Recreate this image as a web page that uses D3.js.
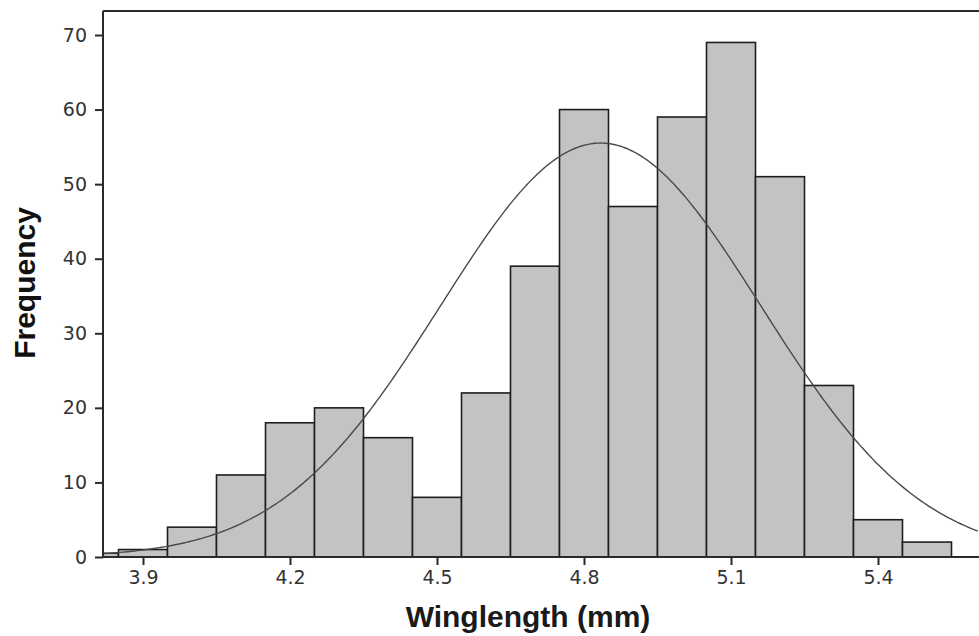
<!DOCTYPE html>
<html>
<head>
<meta charset="utf-8">
<script src="https://cdn.jsdelivr.net/npm/d3@7"></script>
<style>
  html, body { margin: 0; padding: 0; background: #fff; }
  svg { display: block; }
</style>
</head>
<body>
<svg id="chart" width="979" height="636"></svg>
<script>
// Histogram of wing lengths (mm), bins of 0.1 mm, with a fitted normal curve
const binCenters = [3.8, 3.9, 4.0, 4.1, 4.2, 4.3, 4.4, 4.5, 4.6, 4.7, 4.8, 4.9, 5.0, 5.1, 5.2, 5.3, 5.4, 5.5];
const counts     = [0.5, 1,   4,   11,  18,  20,  16,  8,   22,  39,  60,  47,  59,  69,  51,  23,  5,   2];
const binWidth = 0.1;

const xTicks = [3.9, 4.2, 4.5, 4.8, 5.1, 5.4];
const yTicks = [0, 10, 20, 30, 40, 50, 60, 70];

// Normal fit parameters for the overlay curve
const fitMean = 4.834;
const fitSd = 0.327;
const fitN = 455;

const svg = d3.select("#chart");
const plot = { left: 103, top: 11, right: 979, bottom: 557 };

const x = d3.scaleLinear().domain([3.9, 5.4]).range([143, 878]);
const y = d3.scaleLinear().domain([0, 70]).range([557, 35]);

svg.append("clipPath").attr("id", "plotClip")
  .append("rect")
  .attr("x", plot.left).attr("y", plot.top)
  .attr("width", plot.right - plot.left).attr("height", plot.bottom - plot.top);

const g = svg.append("g").attr("clip-path", "url(#plotClip)");

// bars
g.selectAll("rect.bar")
  .data(binCenters.map((c, i) => ({ c, n: counts[i] })))
  .join("rect")
  .attr("class", "bar")
  .attr("x", d => x(d.c - binWidth / 2))
  .attr("width", d => x(d.c + binWidth / 2) - x(d.c - binWidth / 2))
  .attr("y", d => y(d.n))
  .attr("height", d => y(0) - y(d.n))
  .attr("fill", "#c3c3c3")
  .attr("stroke", "#1e1e1e")
  .attr("stroke-width", 1.6);

// fitted normal curve scaled to counts per bin
const pdf = v => fitN * binWidth / (fitSd * Math.sqrt(2 * Math.PI)) *
  Math.exp(-0.5 * Math.pow((v - fitMean) / fitSd, 2));
const xs = d3.range(x.invert(plot.left), x.invert(plot.right + 1), 0.005);
g.append("path")
  .datum(xs)
  .attr("fill", "none")
  .attr("stroke", "#4a4a4a")
  .attr("stroke-width", 1.4)
  .attr("d", d3.line().x(v => x(v)).y(v => y(pdf(v))));

// frame: top line, left and bottom axes
const axisColor = "#2a2a2a";
svg.append("line")
  .attr("x1", plot.left).attr("x2", plot.right)
  .attr("y1", plot.top).attr("y2", plot.top)
  .attr("stroke", axisColor).attr("stroke-width", 2);

const yAxis = d3.axisLeft(y).tickValues(yTicks).tickSize(8).tickPadding(8).tickFormat(d3.format("d"));
const yG = svg.append("g").attr("transform", `translate(${plot.left},0)`).call(yAxis);
yG.select(".domain").remove();
yG.append("line")
  .attr("x1", 0).attr("x2", 0).attr("y1", plot.top).attr("y2", plot.bottom + 1)
  .attr("stroke", axisColor).attr("stroke-width", 2);

const xAxis = d3.axisBottom(x).tickValues(xTicks).tickSize(8).tickPadding(6).tickFormat(d3.format(".1f"));
const xG = svg.append("g").attr("transform", `translate(0,${plot.bottom})`).call(xAxis);
xG.select(".domain").remove();
xG.append("line")
  .attr("x1", plot.left - 1).attr("x2", plot.right).attr("y1", 0).attr("y2", 0)
  .attr("stroke", axisColor).attr("stroke-width", 2);

[yG, xG].forEach(a => {
  a.selectAll(".tick line").attr("stroke", axisColor).attr("stroke-width", 2);
  a.selectAll(".tick text")
    .attr("fill", "#333")
    .style("font-family", "'DejaVu Sans', Verdana, sans-serif")
    .style("font-size", "19px");
});

// axis titles
svg.append("text")
  .attr("transform", "translate(35,283) rotate(-90)")
  .attr("text-anchor", "middle")
  .style("font-family", "'Liberation Sans', Arial, sans-serif")
  .style("font-weight", "bold")
  .style("font-size", "30px")
  .attr("fill", "#111")
  .text("Frequency");

svg.append("text")
  .attr("x", 528).attr("y", 627)
  .attr("text-anchor", "middle")
  .style("font-family", "'Liberation Sans', Arial, sans-serif")
  .style("font-weight", "bold")
  .style("font-size", "30px")
  .attr("fill", "#1a1a1a")
  .text("Winglength (mm)");
</script>
</body>
</html>
